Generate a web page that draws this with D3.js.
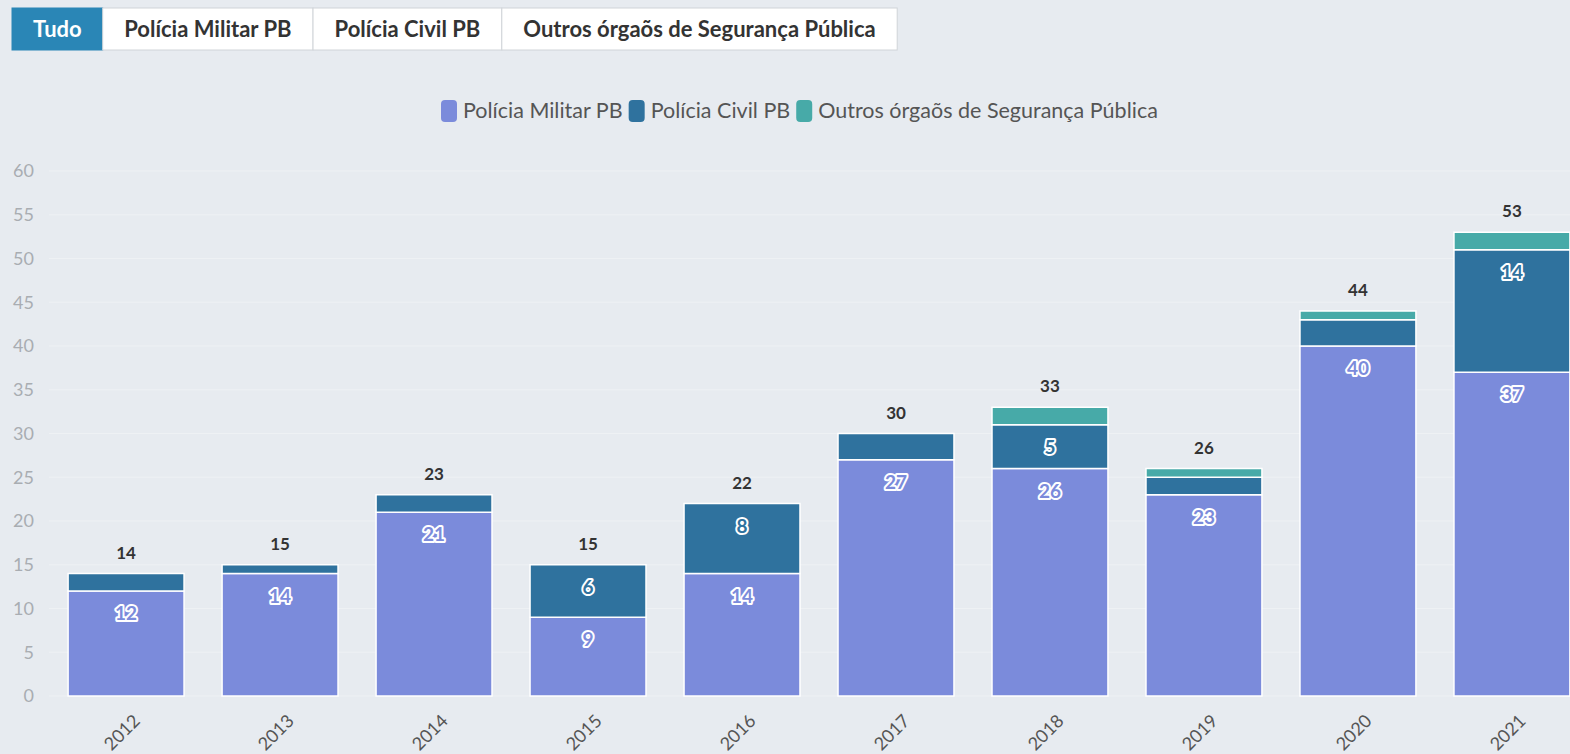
<!DOCTYPE html>
<html>
<head>
<meta charset="utf-8">
<script src="https://cdn.jsdelivr.net/npm/d3@7"></script>
<style>
  body { margin: 0; background: #e7ebf0; overflow: hidden; font-family: Lato, "Open Sans", sans-serif; }
  #chart { width: 1570px; height: 754px; overflow: hidden; }
</style>
</head>
<body>
<div id="chart"></div>
<script>
const years = ['2012','2013','2014','2015','2016','2017','2018','2019','2020','2021'];
const militar = [12, 14, 21, 9, 14, 27, 26, 23, 40, 37];
const civil = [2, 1, 2, 6, 8, 3, 5, 2, 3, 14];
const outros = [0, 0, 0, 0, 0, 0, 2, 1, 1, 2];
const seriesNames = ['Polícia Militar PB', 'Polícia Civil PB', 'Outros órgaõs de Segurança Pública'];
const seriesColors = ['#7b8bdb', '#2f729e', '#47aaa8'];
const buttons = ['Tudo', 'Polícia Militar PB', 'Polícia Civil PB', 'Outros órgaõs de Segurança Pública'];
const yTicks = [0, 5, 10, 15, 20, 25, 30, 35, 40, 45, 50, 55, 60];

const w = 1600, h = 754;
const svg = d3.select('#chart').append('svg')
  .attr('width', w).attr('height', h);

// buttons
const btnG = svg.append('g').attr('transform', 'translate(12,8)');
let bx = 0;
buttons.forEach((b, i) => {
  const t = btnG.append('text').text(b)
    .attr('font-size', 22).attr('font-weight', 700)
    .attr('fill', i === 0 ? '#fff' : '#333');
  const tw = t.node().getComputedTextLength();
  const bw = tw + (i === 0 ? 42 : 43);
  btnG.insert('rect', 'text')
    .attr('x', bx).attr('y', 0).attr('width', bw).attr('height', 42)
    .attr('fill', i === 0 ? '#2a86b6' : '#fff')
    .attr('stroke', i === 0 ? '#2a86b6' : '#d0d4d8');
  t.attr('x', bx + bw / 2).attr('y', 29).attr('text-anchor', 'middle');
  bx += bw;
});

const margin = { left: 49, right: 10, top: 171, bottom: 58 };
const x = d3.scaleBand().domain(years)
  .range([margin.left, w - 11]).paddingInner(0.247).paddingOuter(0.124);
const y = d3.scaleLinear().domain([0, 60]).range([h - margin.bottom, margin.top]);

// grid
svg.append('g').selectAll('line').data(yTicks).enter().append('line')
  .attr('x1', margin.left).attr('x2', w)
  .attr('y1', d => y(d)).attr('y2', d => y(d))
  .attr('stroke', '#eef1f4').attr('stroke-width', 1);

const yAxis = d3.axisLeft(y).tickValues(yTicks).tickSize(0).tickPadding(0);
const ya = svg.append('g').attr('transform', 'translate(34,0)').call(yAxis);
ya.select('.domain').remove();
ya.selectAll('text').attr('font-size', 18).attr('fill', '#a9adb2')
  .attr('font-family', 'Lato, sans-serif');

// stacked data
const rows = years.map((yr, i) => ({ year: yr, m: militar[i], c: civil[i], o: outros[i] }));
const stack = d3.stack().keys(['m', 'c', 'o'])(rows);

const layers = svg.append('g').selectAll('g').data(stack).enter().append('g')
  .attr('fill', (d, i) => seriesColors[i]);

layers.selectAll('rect').data(d => d).enter().append('rect')
  .filter(d => d[1] - d[0] > 0)
  .attr('x', d => x(d.data.year))
  .attr('width', x.bandwidth())
  .attr('y', d => y(d[1]))
  .attr('height', d => y(d[0]) - y(d[1]))
  .attr('stroke', '#fff').attr('stroke-width', 1.5);

// data labels inside segments
layers.each(function (layer, li) {
  d3.select(this).selectAll('text').data(layer.filter(d => d[1] - d[0] >= 5)).enter()
    .append('text')
    .attr('x', d => x(d.data.year) + x.bandwidth() / 2)
    .attr('y', d => y(d[1]) + 29)
    .attr('text-anchor', 'middle')
    .attr('font-size', 19).attr('font-weight', 700)
    .attr('fill', seriesColors[li])
    .attr('stroke', '#fff').attr('stroke-width', 4).attr('stroke-linejoin', 'round')
    .attr('paint-order', 'stroke')
    .text(d => d[1] - d[0]);
});

// totals
svg.append('g').selectAll('text').data(rows).enter().append('text')
  .attr('x', d => x(d.year) + x.bandwidth() / 2)
  .attr('y', d => y(d.m + d.c + d.o) - 15)
  .attr('text-anchor', 'middle')
  .attr('font-size', 17).attr('font-weight', 700).attr('fill', '#333')
  .text(d => d.m + d.c + d.o);

// x axis labels
svg.append('g').selectAll('text').data(years).enter().append('text')
  .attr('transform', d => `translate(${x(d) + x.bandwidth() / 2 + 15},${h - 32}) rotate(-45)`)
  .attr('text-anchor', 'end')
  .attr('font-size', 18).attr('fill', '#555')
  .text(d => d);

// legend
const lg = svg.append('g').attr('transform', 'translate(441,100)');
let lx = 0;
seriesNames.forEach((n, i) => {
  lg.append('rect').attr('x', lx).attr('y', 0).attr('width', 16).attr('height', 22)
    .attr('rx', 4).attr('fill', seriesColors[i]);
  const t = lg.append('text').attr('x', lx + 22).attr('y', 18)
    .attr('font-size', 21.5).attr('fill', '#555').text(n);
  lx += 22 + t.node().getComputedTextLength() + 6;
});
</script>
</body>
</html>
